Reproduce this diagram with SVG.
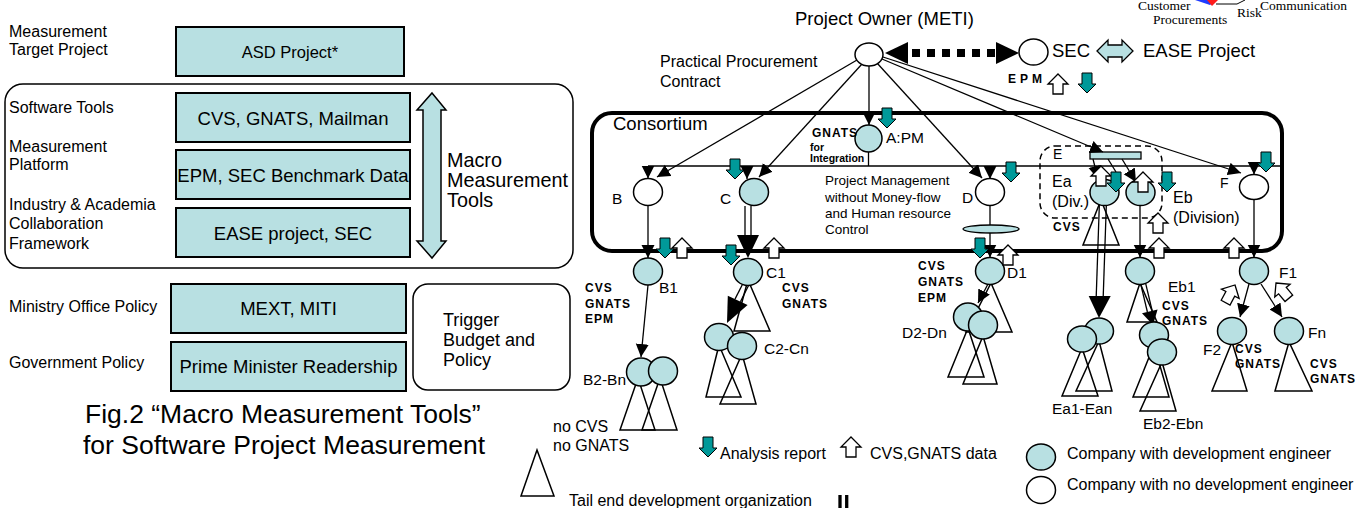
<svg xmlns="http://www.w3.org/2000/svg" width="1369" height="508" viewBox="0 0 1369 508">
<style>
text{font-family:"Liberation Sans",Arial,sans-serif;fill:#000}
.s16{font-size:16px}
.s18{font-size:18.5px}
.mid{text-anchor:middle}
.box{fill:#b8e0e2;stroke:#000;stroke-width:2}
.frame{fill:none;stroke:#000;stroke-width:1.5}
.node{fill:#b8e0e2;stroke:#000;stroke-width:1.5}
.wnode{fill:#fff;stroke:#000;stroke-width:1.5}
.tri{fill:none;stroke:#000;stroke-width:1.5}
.ln{fill:none;stroke:#000;stroke-width:1.3}
.arr{marker-end:url(#ah)}
.tool{font-weight:bold;font-size:12px;letter-spacing:1px}
.lab{font-size:15.5px}
.teal{fill:#009999;stroke:#000;stroke-width:1}
.up{fill:#fff;stroke:#000;stroke-width:1.3}
.serif{font-family:"Liberation Serif","Times New Roman",serif;font-size:13.5px}
</style>
<defs>
<marker id="ah" markerUnits="userSpaceOnUse" markerWidth="14" markerHeight="14" refX="13" refY="6.5" orient="auto" viewBox="0 0 14 14"><path d="M0,0 L13,6.5 L0,13 Z" fill="#000"/></marker>
<path id="tdown" d="M-5,0 H5 V11 H9 L0,20 L-9,11 H-5 Z"/>
<path id="wup" d="M0,0 L10,10 H5 V20 H-5 V10 H-10 Z"/>
</defs>

<!-- LEFT PANEL -->
<g id="left-labels">
<text class="s16" x="9" y="37">Measurement</text>
<text class="s16" x="9" y="55">Target Project</text>
<text class="s16" x="9" y="113">Software Tools</text>
<text class="s16" x="9" y="152">Measurement</text>
<text class="s16" x="9" y="170">Platform</text>
<text class="s16" x="9" y="210">Industry &amp; Academia</text>
<text class="s16" x="9" y="229">Collaboration</text>
<text class="s16" x="9" y="249">Framework</text>
<text class="s16" x="9" y="312">Ministry Office Policy</text>
<text class="s16" x="9" y="368">Government Policy</text>
</g>
<g id="asd-box">
<rect class="box" x="176" y="27" width="228" height="49"/>
<text class="mid" style="font-size:16.5px" x="290" y="58">ASD Project*</text>
</g>
<g id="macro-frame">
<rect class="frame" x="5" y="84" width="568" height="184" rx="18"/>
</g>
<g id="cvs-box">
<rect class="box" x="176" y="93" width="234" height="49"/>
<text class="mid s18" x="293" y="125">CVS, GNATS, Mailman</text>
</g>
<g id="epm-box">
<rect class="box" x="176" y="150" width="234" height="49"/>
<text class="mid s18" x="293" y="182">EPM, SEC Benchmark Data</text>
</g>
<g id="ease-box">
<rect class="box" x="176" y="208" width="234" height="49"/>
<text class="mid s18" x="293" y="240">EASE project, SEC</text>
</g>
<g id="macro-arrow">
<polygon points="432,93 446,110 441,110 441,241 446,241 432,258 417,241 423,241 423,110 417,110" fill="#b8e0e2" stroke="#000" stroke-width="1.5"/>
<text style="font-size:19.8px" x="447" y="167">Macro</text>
<text style="font-size:19.8px" x="447" y="187">Measurement</text>
<text style="font-size:19.8px" x="447" y="207">Tools</text>
</g>
<g id="mext-box">
<rect class="box" x="171" y="284" width="235" height="49"/>
<text class="mid s18" x="288.5" y="315">MEXT, MITI</text>
</g>
<g id="prime-box">
<rect class="box" x="171" y="342" width="235" height="49"/>
<text class="mid s18" x="288.5" y="373">Prime Minister Readership</text>
</g>
<g id="trigger-box">
<rect class="frame" x="413" y="284" width="157" height="106" rx="15"/>
<text style="font-size:18px" x="443" y="326">Trigger</text>
<text style="font-size:18px" x="443" y="346">Budget and</text>
<text style="font-size:18px" x="443" y="366">Policy</text>
</g>
<g id="caption">
<text style="font-size:26.5px" x="85" y="423">Fig.2 “Macro Measurement Tools”</text>
<text style="font-size:26.5px" x="83" y="454">for Software Project Measurement</text>
</g>

<!-- TOP RIGHT FRAGMENT -->
<g id="fragment">
<polygon points="1195,0 1217,0 1210,5" fill="#1f3cff"/>
<polygon points="1207,0 1218,0 1212,6" fill="#ff1a1a"/>
<polyline points="1216,4 1237,4 1245,0" fill="none" stroke="#000" stroke-width="1"/>
<text class="serif" x="1138" y="10">Customer</text>
<text class="serif" x="1153" y="24">Procurements</text>
<text class="serif" x="1237" y="17">Risk</text>
<text class="serif" x="1260" y="10">Communication</text>
</g>

<!-- CONSORTIUM -->
<g id="consortium">
<rect x="592" y="113" width="690" height="138" rx="20" fill="none" stroke="#000" stroke-width="4"/>
<text class="s18" x="613" y="130">Consortium</text>
<text style="font-size:13.5px" x="825" y="185">Project Management</text>
<text style="font-size:13.5px" x="825" y="202">without Money-flow</text>
<text style="font-size:13.5px" x="825" y="218">and Human resource</text>
<text style="font-size:13.5px" x="825" y="234">Control</text>
</g>
<g id="E-group">
<rect x="1040" y="146" width="122" height="72" rx="15" fill="none" stroke="#000" stroke-width="1.5" stroke-dasharray="6 4"/>
<text style="font-size:14px" x="1053" y="159">E</text>
<text class="tool" x="1053" y="231">CVS</text>
<rect x="1090" y="152" width="51" height="7" fill="#b8e0e2" stroke="#000" stroke-width="1.3"/>
</g>

<!-- CONNECTORS -->
<g id="connectors">
<line class="ln arr" x1="857" y1="60" x2="657" y2="177"/>
<line class="ln arr" x1="862" y1="64" x2="759" y2="177"/>
<line class="ln arr" x1="869" y1="66" x2="869" y2="125"/>
<line class="ln arr" x1="877" y1="63" x2="982" y2="178"/>
<line class="ln arr" x1="882" y1="59" x2="1103" y2="152"/>
<line class="ln arr" x1="883" y1="57" x2="1241" y2="173"/>
<line x1="648" y1="166" x2="1282" y2="166" stroke="#000" stroke-width="1.5"/>
<line class="ln" x1="868.5" y1="152" x2="868.5" y2="166"/>
<line class="ln arr" x1="648" y1="166" x2="648" y2="178.5"/>
<line class="ln arr" x1="747" y1="166" x2="747" y2="179"/>
<line class="ln arr" x1="990" y1="166" x2="990" y2="179"/>
<line class="ln arr" x1="1254" y1="166" x2="1254" y2="174.5"/>
<line class="ln arr" x1="1093" y1="159" x2="1098" y2="179"/>
<line class="ln" x1="1108" y1="159" x2="1116" y2="172"/>
<line class="ln arr" x1="1122" y1="159" x2="1136" y2="182"/>
<!-- dashed thick double arrow -->
<line x1="912" y1="53" x2="996" y2="53" stroke="#000" stroke-width="8" stroke-dasharray="8 7"/>
<polygon points="885,53 908,42 908,64" fill="#000"/>
<polygon points="1019,53 996,42 996,64" fill="#000"/>
<!-- level 1 to level 2 -->
<line class="ln arr" x1="648" y1="205.5" x2="648" y2="258"/>
<line class="ln" x1="751" y1="206" x2="751" y2="236"/>
<line class="ln" x1="745" y1="206" x2="745" y2="236"/>
<polygon points="737,235 759,235 748,258" fill="#000"/>
<line class="ln" x1="990" y1="205.5" x2="990" y2="225"/>
<ellipse cx="991" cy="229" rx="28" ry="4" fill="#b8e0e2" stroke="#000" stroke-width="1.3"/>
<line class="ln arr" x1="990" y1="233" x2="990" y2="257.5"/>
<line class="ln arr" x1="1140" y1="206" x2="1140" y2="257.5"/>
<line class="ln arr" x1="1254" y1="199.5" x2="1254" y2="257.5"/>
<!-- level 2 to level 3 -->
<line class="ln arr" x1="648" y1="285" x2="641" y2="357"/>
<line class="ln" x1="748.7" y1="285.3" x2="740.4" y2="301.7"/>
<line class="ln" x1="743.3" y1="282.7" x2="735" y2="299.1"/>
<polygon points="747.6,305.1 727.8,295.7 727,323" fill="#000"/>
<line class="ln arr" x1="988" y1="284" x2="978" y2="303"/>
<line class="ln" x1="1099.5" y1="200" x2="1096.2" y2="297"/>
<line class="ln" x1="1106.5" y1="200" x2="1103.2" y2="297"/>
<polygon points="1088.7,296 1110.7,296 1099,318" fill="#000"/>
<line class="ln" x1="1145.4" y1="282.4" x2="1152.2" y2="310.8"/>
<line class="ln" x1="1140.6" y1="283.6" x2="1147.4" y2="312"/>
<polygon points="1157.6,309.6 1142,313.2 1153,325" fill="#000"/>
<line class="ln arr" x1="1249" y1="284" x2="1240" y2="317"/>
<line class="ln arr" x1="1261" y1="284" x2="1282" y2="317"/>
<line x1="840" y1="495" x2="840" y2="508" stroke="#000" stroke-width="3.3"/>
<line x1="846.7" y1="495" x2="846.7" y2="508" stroke="#000" stroke-width="3.3"/>
</g>

<!-- TRIANGLES (tail end organizations) -->
<g id="tails">
<polygon class="tri" points="748,280 734,331 770,331"/>
<polygon class="tri" points="638,378 620,430 655,430"/>
<polygon class="tri" points="660,378 642,430 677,430"/>
<polygon class="tri" points="719,345 706,397 741,397"/>
<polygon class="tri" points="742,354 720,404 756,404"/>
<polygon class="tri" points="991,283 966,332 1012,332"/>
<polygon class="tri" points="968,328 948,377 984,377"/>
<polygon class="tri" points="983,336 963,384 997,384"/>
<polygon class="tri" points="1101,200 1083,245 1119,245"/>
<polygon class="tri" points="1099,341 1076,391 1112,391"/>
<polygon class="tri" points="1082,348 1062,396 1098,396"/>
<polygon class="tri" points="1140,283 1127,322 1157,322"/>
<polygon class="tri" points="1154,345 1133,397 1169,397"/>
<polygon class="tri" points="1162,362 1140,411 1176,411"/>
<polygon class="tri" points="1232,342 1212,391 1247,391"/>
<polygon class="tri" points="1289,342 1275,391 1312,391"/>
</g>

<!-- NODES -->
<g id="owner">
<ellipse class="wnode" cx="869" cy="54.5" rx="14" ry="11.5"/>
<text class="s18" x="795" y="25">Project Owner (METI)</text>
<text class="s16" x="660" y="67">Practical Procurement</text>
<text class="s16" x="660" y="87">Contract</text>
</g>
<g id="sec">
<ellipse class="wnode" cx="1033.5" cy="52" rx="14.5" ry="13"/>
<text class="s18" x="1052" y="57">SEC</text>
<polygon points="1097,51 1108,40 1108,45 1122,45 1122,40 1133,51 1122,62 1122,57 1108,57 1108,62" fill="#b8e0e2" stroke="#000" stroke-width="1.3"/>
<text class="s18" x="1143" y="57">EASE Project</text>
<text class="tool" style="letter-spacing:4px" x="1008" y="83">EPM</text>
</g>
<g id="node-A">
<ellipse class="node" cx="868.5" cy="138.5" rx="13.5" ry="13.5"/>
<text class="lab" x="886" y="143">A:PM</text>
<text class="tool" x="812" y="137">GNATS</text>
<text style="font-size:10.5px;font-weight:bold" x="810" y="151">for</text>
<text style="font-size:10.5px;font-weight:bold" x="810" y="162">Integration</text>
</g>
<g id="node-B">
<ellipse class="wnode" cx="648" cy="192" rx="14.5" ry="13.5"/>
<text class="lab" x="612" y="204">B</text>
</g>
<g id="node-C">
<ellipse class="node" cx="754" cy="192" rx="14.5" ry="13.5"/>
<text class="lab" x="720" y="204">C</text>
</g>
<g id="node-D">
<ellipse class="wnode" cx="990" cy="192" rx="14.5" ry="13.5"/>
<text class="lab" x="962" y="203">D</text>
</g>
<g id="node-Ea">
<ellipse class="node" cx="1104.5" cy="192.5" rx="14.5" ry="13"/>
<text class="s16" x="1052" y="187">Ea</text>
<text class="s16" x="1052" y="207">(Div.)</text>
</g>
<g id="node-Eb">
<ellipse class="node" cx="1140.5" cy="192.5" rx="14.5" ry="13"/>
<text class="s16" x="1173" y="203">Eb</text>
<text class="s16" x="1173" y="223">(Division)</text>
</g>
<g id="node-F">
<ellipse class="wnode" cx="1254" cy="187" rx="14.5" ry="12.5"/>
<text style="font-size:14px" x="1220" y="188">F</text>
</g>
<g id="node-B1">
<ellipse class="node" cx="648" cy="271.5" rx="14.5" ry="13.5"/>
<text class="lab" x="659" y="293">B1</text>
<text class="tool" x="585" y="292">CVS</text>
<text class="tool" x="585" y="308">GNATS</text>
<text class="tool" x="585" y="323">EPM</text>
</g>
<g id="node-C1">
<ellipse class="node" cx="748" cy="272" rx="14.5" ry="13.5"/>
<text class="lab" x="766" y="278">C1</text>
<text class="tool" x="782" y="292">CVS</text>
<text class="tool" x="782" y="308">GNATS</text>
</g>
<g id="node-D1">
<ellipse class="node" cx="990" cy="271" rx="14.5" ry="13.5"/>
<text class="lab" x="1007" y="278">D1</text>
<text class="tool" x="918" y="270">CVS</text>
<text class="tool" x="918" y="286">GNATS</text>
<text class="tool" x="918" y="302">EPM</text>
</g>
<g id="node-Eb1">
<ellipse class="node" cx="1140" cy="271" rx="14.5" ry="13.5"/>
<text class="lab" x="1168" y="292">Eb1</text>
<text class="tool" x="1162" y="310">CVS</text>
<text class="tool" x="1162" y="325">GNATS</text>
</g>
<g id="node-F1">
<ellipse class="node" cx="1254" cy="271" rx="14.5" ry="13.5"/>
<text class="lab" x="1279" y="278">F1</text>
</g>
<g id="node-B2-Bn">
<ellipse class="node" cx="641" cy="372" rx="14.5" ry="14"/>
<ellipse class="node" cx="663" cy="371" rx="14.5" ry="14"/>
<text class="lab" x="583" y="385">B2-Bn</text>
<text class="s16" x="553" y="432">no CVS</text>
<text class="s16" x="553" y="451">no GNATS</text>
</g>
<g id="node-C2-Cn">
<ellipse class="node" cx="719" cy="337" rx="14.5" ry="13.5"/>
<ellipse class="node" cx="742" cy="346" rx="14.5" ry="13.5"/>
<text class="lab" x="764" y="354">C2-Cn</text>
</g>
<g id="node-D2-Dn">
<ellipse class="node" cx="968" cy="317" rx="14.5" ry="14"/>
<ellipse class="node" cx="983" cy="325" rx="14.5" ry="14"/>
<text class="lab" x="902" y="338">D2-Dn</text>
</g>
<g id="node-Ea1-Ean">
<ellipse class="node" cx="1099" cy="331" rx="14.5" ry="13"/>
<ellipse class="node" cx="1082" cy="339" rx="14.5" ry="13"/>
<text class="lab" x="1052" y="414">Ea1-Ean</text>
</g>
<g id="node-Eb2-Ebn">
<ellipse class="node" cx="1154" cy="335" rx="14.5" ry="13"/>
<ellipse class="node" cx="1162" cy="352" rx="14.5" ry="13"/>
<text class="lab" x="1143" y="429">Eb2-Ebn</text>
</g>
<g id="node-F2">
<ellipse class="node" cx="1232" cy="331" rx="14.5" ry="13.5"/>
<text class="lab" x="1203" y="355">F2</text>
<text class="tool" x="1235" y="353">CVS</text>
<text class="tool" x="1235" y="368">GNATS</text>
</g>
<g id="node-Fn">
<ellipse class="node" cx="1289" cy="331" rx="14.5" ry="13.5"/>
<text class="lab" x="1308" y="338">Fn</text>
<text class="tool" x="1310" y="368">CVS</text>
<text class="tool" x="1310" y="383">GNATS</text>
</g>

<!-- DATA FLOW BLOCK ARROWS -->
<g id="data-arrows">
<use href="#wup" class="up" x="1058" y="74"/>
<use href="#tdown" class="teal" x="1087" y="73"/>
<use href="#tdown" class="teal" x="887" y="108"/>
<use href="#tdown" class="teal" x="735" y="159"/>
<use href="#tdown" class="teal" x="1011" y="162"/>
<use href="#tdown" class="teal" x="1266" y="152"/>
<use href="#tdown" class="teal" x="665" y="238"/>
<use href="#wup" class="up" x="682" y="238"/>
<use href="#tdown" class="teal" x="731" y="245"/>
<use href="#wup" class="up" x="774" y="238"/>
<use href="#tdown" class="teal" x="980" y="238"/>
<use href="#wup" class="up" x="1008" y="245"/>
<use href="#wup" class="up" x="1101" y="166"/>
<use href="#tdown" class="teal" x="1116" y="172"/>
<use href="#wup" class="up" x="1143" y="172"/>
<use href="#tdown" class="teal" x="1167" y="172"/>
<use href="#wup" class="up" x="1158" y="213"/>
<use href="#wup" class="up" x="1159" y="238"/>
<use href="#wup" class="up" x="1234" y="238"/>
<use href="#wup" class="up" transform="translate(1235,285) rotate(28)"/>
<use href="#wup" class="up" transform="translate(1276,283) rotate(-40)"/>
</g>

<!-- LEGEND -->
<g id="legend">
<use href="#tdown" class="teal" x="708" y="437"/>
<text class="s16" x="720" y="459">Analysis report</text>
<use href="#wup" class="up" x="851" y="437"/>
<text class="s16" x="870" y="459">CVS,GNATS data</text>
<ellipse class="node" cx="1041" cy="457" rx="14.5" ry="13"/>
<text class="s16" x="1067" y="459">Company with development engineer</text>
<ellipse class="wnode" cx="1041" cy="490" rx="14.5" ry="13.5"/>
<text class="s16" x="1067" y="490">Company with no development engineer</text>
<polygon class="tri" points="537,450 521,496 554,496"/>
<text class="s16" x="569" y="506">Tail end development organization</text>
</g>
</svg>
